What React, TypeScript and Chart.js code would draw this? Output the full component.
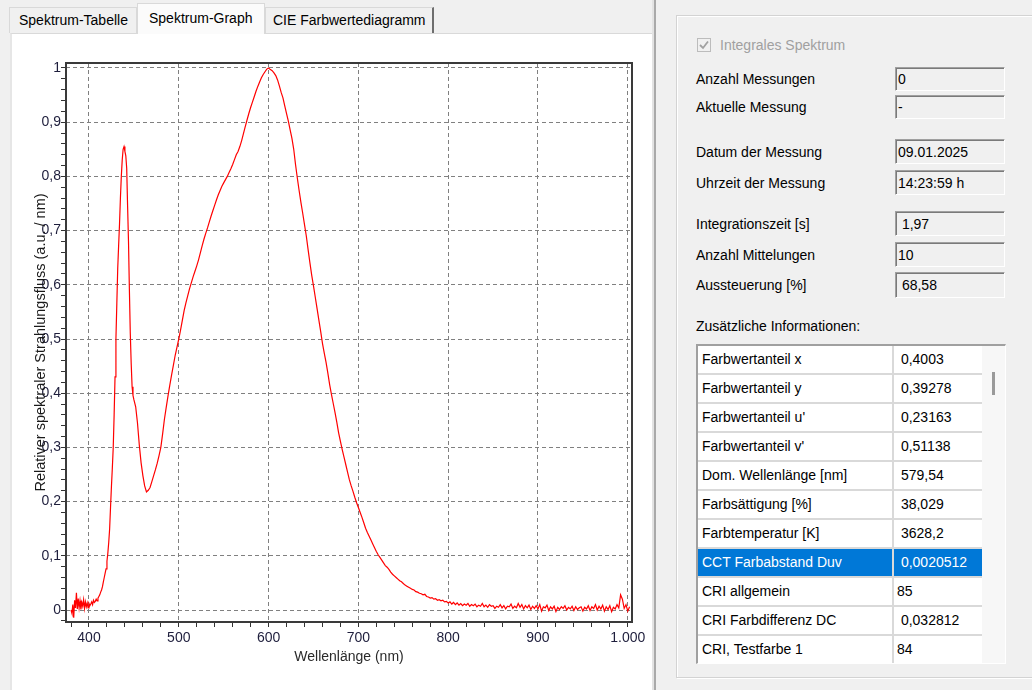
import React, { useEffect, useRef } from 'react';
import { Chart, registerables } from 'chart.js';

Chart.register(...registerables);

// ---------- chart data ----------
const wavelengthNm: number[] = [
  380, 381, 382, 383, 384, 385, 386, 387, 388, 389,
  390, 391, 392, 393, 394, 395, 396, 397, 398, 399,
  400, 401, 402, 403, 404, 405, 406, 407, 408, 409,
  410, 411, 412, 413, 414, 415, 416, 417, 418, 419,
  420, 421, 422, 423, 424, 425, 426, 427, 428, 429,
  430, 431, 432, 433, 434, 435, 436, 437, 438, 439,
  440, 441, 442, 443, 444, 445, 446, 447, 448, 449,
  450, 452, 454, 456, 458, 460, 462, 464, 466, 468,
  470, 472, 474, 476, 478, 480, 482, 484, 486, 488,
  490, 492, 494, 496, 498, 500, 502, 504, 506, 508,
  510, 512, 514, 516, 518, 520, 522, 524, 526, 528,
  530, 532, 534, 536, 538, 540, 542, 544, 546, 548,
  550, 552, 554, 556, 558, 560, 562, 564, 566, 568,
  570, 572, 574, 576, 578, 580, 582, 584, 586, 588,
  590, 592, 594, 596, 598, 600, 602, 604, 606, 608,
  610, 612, 614, 616, 618, 620, 622, 624, 626, 628,
  630, 632, 634, 636, 638, 640, 642, 644, 646, 648,
  650, 652, 654, 656, 658, 660, 662, 664, 666, 668,
  670, 672, 674, 676, 678, 680, 682, 684, 686, 688,
  690, 692, 694, 696, 698, 700, 702, 704, 706, 708,
  710, 712, 714, 716, 718, 720, 722, 724, 726, 728,
  730, 732, 734, 736, 738, 740, 742, 744, 746, 748,
  750, 752, 754, 756, 758, 760, 762, 764, 766, 768,
  770, 772, 774, 776, 778, 780, 782, 784, 786, 788,
  790, 792, 794, 796, 798, 800, 802, 804, 806, 808,
  810, 812, 814, 816, 818, 820, 822, 824, 826, 828,
  830, 832, 834, 836, 838, 840, 842, 844, 846, 848,
  850, 852, 854, 856, 858, 860, 862, 864, 866, 868,
  870, 872, 874, 876, 878, 880, 882, 884, 886, 888,
  890, 892, 894, 896, 898, 900, 902, 904, 906, 908,
  910, 912, 914, 916, 918, 920, 922, 924, 926, 928,
  930, 932, 934, 936, 938, 940, 942, 944, 946, 948,
  950, 952, 954, 956, 958, 960, 962, 964, 966, 968,
  970, 972, 974, 976, 978, 980, 982, 984, 986, 988,
  990, 992, 994, 996, 998, 1000, 1002,
];

const relativeFlux: number[] = [
  0.000, -0.006, 0.010, -0.014, 0.018, 0.004, 0.032, 0.002, 0.021, 0.004,
  0.017, 0.001, 0.014, 0.007, 0.019, 0.003, 0.015, 0.006, 0.013, 0.004,
  0.012, 0.008, 0.011, 0.015, 0.010, 0.018, 0.014, 0.016, 0.020, 0.017,
  0.022, 0.025, 0.028, 0.033, 0.037, 0.043, 0.052, 0.060, 0.068, 0.076,
  0.090, 0.105, 0.125, 0.150, 0.190, 0.228, 0.262, 0.300, 0.360, 0.430,
  0.500, 0.565, 0.630, 0.672, 0.712, 0.760, 0.800, 0.830, 0.850, 0.855,
  0.846, 0.838, 0.815, 0.745, 0.680, 0.590, 0.510, 0.455, 0.412, 0.396,
  0.388, 0.375, 0.345, 0.305, 0.272, 0.248, 0.229, 0.218, 0.221, 0.226,
  0.237, 0.248, 0.259, 0.271, 0.285, 0.300, 0.325, 0.352, 0.374, 0.395,
  0.415, 0.434, 0.452, 0.470, 0.485, 0.500, 0.517, 0.535, 0.553, 0.567,
  0.580, 0.593, 0.604, 0.615, 0.625, 0.635, 0.646, 0.659, 0.672, 0.684,
  0.695, 0.705, 0.716, 0.727, 0.737, 0.747, 0.757, 0.766, 0.774, 0.782,
  0.788, 0.794, 0.800, 0.807, 0.814, 0.822, 0.831, 0.840, 0.846, 0.855,
  0.866, 0.879, 0.892, 0.904, 0.916, 0.927, 0.937, 0.947, 0.957, 0.966,
  0.974, 0.982, 0.988, 0.993, 0.998, 1.000, 0.997, 0.995, 0.991, 0.986,
  0.978, 0.967, 0.955, 0.945, 0.930, 0.916, 0.902, 0.886, 0.870, 0.850,
  0.822, 0.797, 0.774, 0.752, 0.732, 0.711, 0.690, 0.665, 0.641, 0.618,
  0.598, 0.577, 0.556, 0.535, 0.514, 0.492, 0.474, 0.457, 0.437, 0.416,
  0.398, 0.381, 0.364, 0.346, 0.327, 0.311, 0.296, 0.282, 0.268, 0.254,
  0.240, 0.229, 0.219, 0.208, 0.198, 0.189, 0.180, 0.171, 0.161, 0.151,
  0.143, 0.136, 0.129, 0.122, 0.115, 0.108, 0.102, 0.097, 0.092, 0.087,
  0.082, 0.079, 0.075, 0.070, 0.066, 0.063, 0.060, 0.057, 0.054, 0.052,
  0.049, 0.046, 0.044, 0.042, 0.040, 0.038, 0.037, 0.034, 0.033, 0.031,
  0.030, 0.028, 0.029, 0.025, 0.024, 0.022, 0.023, 0.020, 0.021, 0.018,
  0.019, 0.017, 0.018, 0.015, 0.016, 0.013, 0.015, 0.011, 0.014, 0.010,
  0.013, 0.009, 0.012, 0.008, 0.011, 0.009, 0.012, 0.007, 0.010, 0.008,
  0.011, 0.006, 0.009, 0.007, 0.012, 0.006, 0.009, 0.005, 0.010, 0.007,
  0.008, 0.003, 0.007, 0.005, 0.010, 0.004, 0.008, 0.002, 0.007, 0.006,
  0.011, 0.003, 0.007, 0.004, 0.012, 0.005, 0.010, 0.002, 0.008, 0.004,
  0.009, 0.001, 0.007, 0.003, 0.008, 0.002, 0.010, -0.002, 0.006, 0.004,
  0.009, -0.001, 0.006, 0.002, 0.007, -0.003, 0.005, 0.001, 0.006, 0.003,
  0.008, 0.000, 0.005, 0.002, 0.007, -0.001, 0.006, 0.001, 0.004, 0.006,
  -0.002, 0.005, 0.002, 0.008, -0.001, 0.006, 0.003, 0.010, 0.000, 0.007,
  0.002, 0.009, -0.002, 0.006, 0.001, 0.008, -0.003, 0.005, 0.002, 0.010,
  0.004, 0.028, 0.020, 0.003, 0.010, -0.002, 0.006,
];

const xMajorTicks = [400, 500, 600, 700, 800, 900, 1000];
const xTickLabels = ['400', '500', '600', '700', '800', '900', '1.000'];
const yMajorTicks = [0, 0.1, 0.2, 0.3, 0.4, 0.5, 0.6, 0.7, 0.8, 0.9, 1];
const yTickLabels = ['0', '0,1', '0,2', '0,3', '0,4', '0,5', '0,6', '0,7', '0,8', '0,9', '1'];

const X_TITLE = 'Wellenlänge (nm)';
const Y_TITLE = 'Relativer spektraler Strahlungsfluss (a.u. / nm)';

// ---------- side panel data ----------
const tabLabels = ['Spektrum-Tabelle', 'Spektrum-Graph', 'CIE Farbwertediagramm'];
const fieldLabels = [
  'Anzahl Messungen',
  'Aktuelle Messung',
  'Datum der Messung',
  'Uhrzeit der Messung',
  'Integrationszeit [s]',
  'Anzahl Mittelungen',
  'Aussteuerung [%]',
];
const fieldValues = ['0', '-', '09.01.2025', '14:23:59 h', ' 1,97', '10', ' 68,58'];
const tableLabels = [
  'Farbwertanteil x',
  'Farbwertanteil y',
  "Farbwertanteil u'",
  "Farbwertanteil v'",
  'Dom. Wellenlänge [nm]',
  'Farbsättigung [%]',
  'Farbtemperatur [K]',
  'CCT Farbabstand Duv',
  'CRI allgemein',
  'CRI Farbdifferenz DC',
  'CRI, Testfarbe 1',
];
const tableValues = [
  ' 0,4003',
  ' 0,39278',
  ' 0,23163',
  ' 0,51138',
  ' 579,54',
  ' 38,029',
  ' 3628,2',
  ' 0,0020512',
  '85',
  ' 0,032812',
  '84',
];
const selectedRow = 7;

// ---------- layout constants ----------
const FONT = '"Liberation Sans", Arial, sans-serif';
const fieldTops = [67, 95, 139, 170, 211, 242, 272];
const fieldHeights = [24, 24, 25, 25, 25, 25, 26];

const framePlugin = {
  id: 'frameAndTitles',
  afterDraw(chart: any) {
    const { ctx, chartArea: a } = chart;
    ctx.save();
    ctx.strokeStyle = '#3a3a3a';
    ctx.lineWidth = 2;
    ctx.strokeRect(a.left, a.top, a.right - a.left, a.bottom - a.top);
    ctx.fillStyle = '#2a2a2a';
    ctx.font = '14px ' + FONT;
    ctx.textAlign = 'center';
    ctx.textBaseline = 'middle';
    ctx.fillText(X_TITLE, (a.left + a.right) / 2, a.bottom + 35);
    ctx.translate(a.left - 25, (a.top + a.bottom) / 2);
    ctx.rotate(-Math.PI / 2);
    ctx.fillStyle = '#1a1a1a';
    ctx.font = '14.5px ' + FONT;
    ctx.fillText(Y_TITLE, 0, 0);
    ctx.restore();
  },
};

const isMajorX = (v: number) => xMajorTicks.includes(Math.round(v));
const yIndex = (v: number) => yMajorTicks.findIndex((t) => Math.abs(t - v) < 1e-6);

function SpectrumChart() {
  const ref = useRef<HTMLCanvasElement>(null);
  useEffect(() => {
    if (!ref.current) return;
    const tickFont = { family: FONT, size: 14 };
    const chart = new Chart(ref.current, {
      type: 'line',
      data: {
        datasets: [
          {
            data: wavelengthNm.map((x, i) => ({ x, y: relativeFlux[i] })),
            borderColor: '#ff0000',
            borderWidth: 1.2,
            pointRadius: 0,
            tension: 0,
            fill: false,
          },
        ],
      },
      options: {
        animation: false,
        responsive: false,
        devicePixelRatio: 1,
        layout: { padding: { left: 0, top: 29, right: 18, bottom: 0 } },
        plugins: { legend: { display: false }, tooltip: { enabled: false } },
        scales: {
          x: {
            type: 'linear',
            min: 374.4,
            max: 1004.7,
            afterFit: (s: any) => {
              s.height = 68;
            },
            grid: {
              color: (c: any) => (c.tick && isMajorX(c.tick.value) ? '#808080' : 'rgba(0,0,0,0)'),
              tickColor: '#333333',
              tickLength: 5,
              lineWidth: 1,
            },
            border: { display: false, dash: [4, 3] },
            ticks: {
              stepSize: 20,
              autoSkip: false,
              includeBounds: false,
              maxRotation: 0,
              minRotation: 0,
              padding: 3,
              color: '#1e1e3c',
              font: tickFont,
              callback: (v: any) => {
                const i = xMajorTicks.indexOf(Math.round(Number(v)));
                return i >= 0 ? xTickLabels[i] : '';
              },
            },
          },
          y: {
            type: 'linear',
            min: -0.0221,
            max: 1.0092,
            afterFit: (s: any) => {
              s.width = 54;
            },
            grid: {
              color: (c: any) => (c.tick && yIndex(c.tick.value) >= 0 ? '#808080' : 'rgba(0,0,0,0)'),
              tickColor: '#333333',
              tickLength: 5,
              lineWidth: 1,
            },
            border: { display: false, dash: [4, 3] },
            ticks: {
              stepSize: 0.02,
              autoSkip: false,
              includeBounds: false,
              padding: 0,
              color: '#1e1e3c',
              font: tickFont,
              callback: (v: any) => {
                const i = yIndex(Number(v));
                return i >= 0 ? yTickLabels[i] : '';
              },
            },
          },
        },
      },
      plugins: [framePlugin],
    } as any);
    return () => chart.destroy();
  }, []);
  return (
    <canvas
      ref={ref}
      width={638}
      height={656}
      style={{ position: 'absolute', left: 12, top: 34, width: 638, height: 656 }}
    />
  );
}

const abs = (left: number, top: number, extra: React.CSSProperties = {}): React.CSSProperties => ({
  position: 'absolute',
  left,
  top,
  ...extra,
});

export default function App() {
  const tabGeom = [
    { left: 9, top: 7, width: 128, height: 26, textLeft: 9, textTop: 4 },
    { left: 137, top: 3, width: 128, height: 31, textLeft: 11, textTop: 6 },
    { left: 265, top: 7, width: 169, height: 26, textLeft: 7, textTop: 4 },
  ];
  return (
    <div
      style={{
        position: 'fixed',
        left: 0,
        top: 0,
        width: 1032,
        height: 690,
        overflow: 'hidden',
        background: '#f0f0f0',
        fontFamily: FONT,
        fontSize: 14,
        color: '#000',
      }}
    >
      {/* tab strip */}
      {tabLabels.map((t, i) => {
        const g = tabGeom[i];
        const sel = i === 1;
        return (
          <div
            key={t}
            style={abs(g.left, g.top, {
              width: g.width,
              height: g.height,
              boxSizing: 'border-box',
              background: sel ? '#fbfbfb' : '#f0f0f0',
              borderTop: '1px solid #d9d9d9',
              borderLeft: '1px solid #d9d9d9',
              borderRight: i === 2 ? '2px solid #6e6e6e' : '1px solid #d9d9d9',
              zIndex: sel ? 3 : 2,
            })}
          >
            <div style={abs(g.textLeft, g.textTop, { whiteSpace: 'pre', lineHeight: '16px' })}>{t}</div>
          </div>
        );
      })}

      {/* tab page */}
      <div
        style={abs(10, 33, {
          width: 642,
          height: 657,
          boxSizing: 'border-box',
          background: '#ffffff',
          borderTop: '1px solid #d9d9d9',
          borderLeft: '2px solid #e6e6e6',
        })}
      />
      <SpectrumChart />
      <div style={abs(652, 0, { width: 2, height: 690, background: '#e3e3e3' })} />
      <div style={abs(654, 0, { width: 2, height: 690, background: '#a9a9a9' })} />

      {/* right group frame */}
      <div
        style={abs(676, 15, {
          width: 380,
          height: 663,
          boxSizing: 'border-box',
          border: '1px solid #d3d3d3',
          boxShadow: 'inset 1px 1px 0 #ffffff, 1px 1px 0 #ffffff',
        })}
      />

      {/* checkbox */}
      <div
        style={abs(697, 38, {
          width: 14,
          height: 14,
          boxSizing: 'border-box',
          border: '1px solid #bcbcbc',
          background: '#f0f0f0',
        })}
      >
        <svg width="12" height="12" style={{ position: 'absolute', left: 0, top: 0 }}>
          <path d="M2 6 L5 9 L10 2.5" stroke="#a0a0a0" strokeWidth="1.8" fill="none" />
        </svg>
      </div>
      <div style={abs(720, 37, { color: '#a0a0a0', lineHeight: '16px', whiteSpace: 'pre' })}>Integrales Spektrum</div>

      {/* fields */}
      {fieldLabels.map((lab, i) => {
        const top = fieldTops[i];
        const h = fieldHeights[i];
        return (
          <React.Fragment key={lab}>
            <div style={abs(696, top + h / 2 - 8, { lineHeight: '16px', whiteSpace: 'pre' })}>{lab}</div>
            <div
              style={abs(895, top, {
                width: 110,
                height: h,
                boxSizing: 'border-box',
                background: '#f0f0f0',
                borderTop: '1px solid #a0a0a0',
                borderLeft: '1px solid #a0a0a0',
                borderRight: '1px solid #ffffff',
                borderBottom: '1px solid #ffffff',
                boxShadow: 'inset 1px 1px 0 #7a7a7a',
              })}
            >
              <div style={abs(2, h / 2 - 9, { lineHeight: '16px', whiteSpace: 'pre' })}>{fieldValues[i]}</div>
            </div>
          </React.Fragment>
        );
      })}

      <div style={abs(696, 318, { lineHeight: '16px', whiteSpace: 'pre' })}>Zusätzliche Informationen:</div>

      {/* info table */}
      <div
        style={abs(696, 344, {
          width: 310,
          height: 320,
          boxSizing: 'border-box',
          background: '#f7f7f7',
          borderTop: '2px solid #a0a0a0',
          borderLeft: '2px solid #a0a0a0',
          borderRight: '1px solid #ffffff',
          borderBottom: '1px solid #ffffff',
          overflow: 'hidden',
        })}
      >
        {tableLabels.map((lab, i) => {
          const sel = i === selectedRow;
          const top = i * 29;
          return (
            <React.Fragment key={lab}>
              <div
                style={abs(0, top, {
                  width: 196,
                  height: 29,
                  boxSizing: 'border-box',
                  background: sel ? '#0078d7' : '#ffffff',
                  color: sel ? '#ffffff' : '#000000',
                  borderBottom: '2px solid #d9d9d9',
                  borderRight: '2px solid #d9d9d9',
                })}
              >
                <div style={abs(4, 5, { lineHeight: '16px', whiteSpace: 'pre' })}>{lab}</div>
              </div>
              <div
                style={abs(196, top, {
                  width: 88,
                  height: 29,
                  boxSizing: 'border-box',
                  background: sel ? '#0078d7' : '#ffffff',
                  color: sel ? '#ffffff' : '#000000',
                  borderBottom: '2px solid #d9d9d9',
                })}
              >
                <div style={abs(3, 5, { lineHeight: '16px', whiteSpace: 'pre' })}>{tableValues[i]}</div>
              </div>
            </React.Fragment>
          );
        })}
        <div style={abs(294, 26, { width: 3, height: 23, background: '#9a9a9a' })} />
      </div>
    </div>
  );
}
